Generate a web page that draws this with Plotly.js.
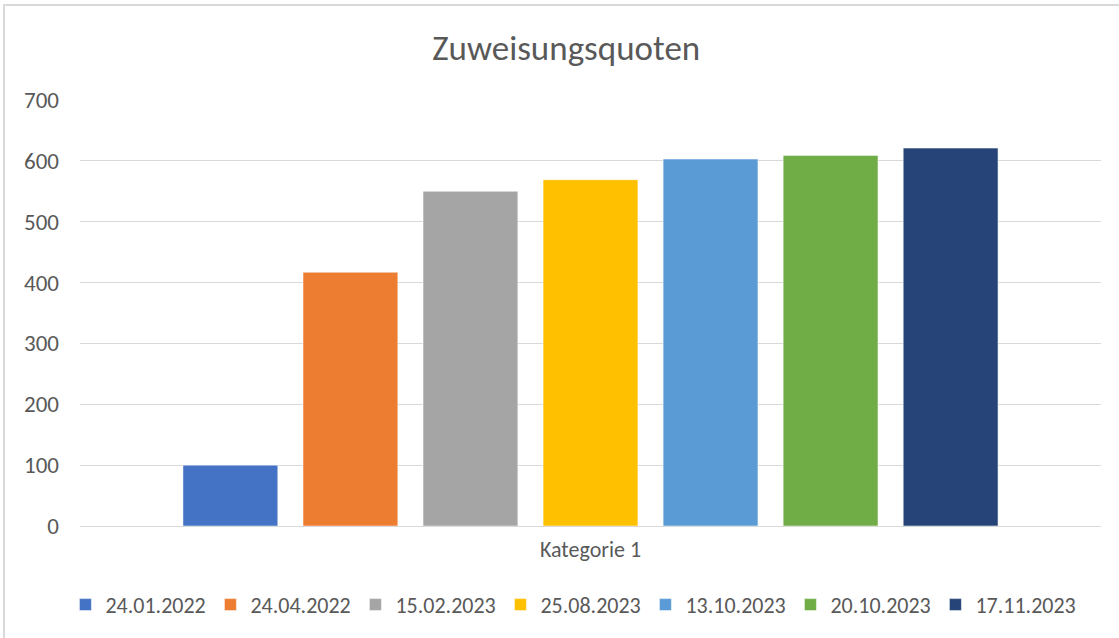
<!DOCTYPE html>
<html>
<head>
<meta charset="utf-8">
<script src="https://cdn.plot.ly/plotly-3.0.1.min.js"></script>
<style>
html, body { margin: 0; padding: 0; background: #fff; overflow: hidden; }
#wrap { position: absolute; left: 3px; top: 4px; width: 1130px; height: 650px; border: 2px solid #d9d9d9; box-sizing: border-box; }
#chart { position: absolute; left: 0; top: 0; width: 1119px; height: 638px; }
</style>
</head>
<body>
<div id="wrap"></div>
<div id="chart"></div>
<script>
const categories = ["Kategorie 1"];
const seriesNames = ["24.01.2022", "24.04.2022", "15.02.2023", "25.08.2023", "13.10.2023", "20.10.2023", "17.11.2023"];
const seriesValues = [100, 417, 550, 569, 603, 609, 621];
const seriesColors = ["#4472C4", "#ED7D31", "#A5A5A5", "#FFC000", "#5B9BD5", "#70AD47", "#264478"];
const yTicks = [0, 100, 200, 300, 400, 500, 600, 700];

const FONT = "Calibri, Carlito, 'Noto Sans', 'Open Sans', sans-serif";
const TXT = "#595959";

const traces = seriesNames.map((name, i) => ({
  type: "bar",
  name: name,
  x: categories,
  y: [seriesValues[i]],
  marker: { color: seriesColors[i], line: { color: "rgba(255,255,255,0.5)", width: 1 } },
  hoverinfo: "name+y"
}));

const layout = {
  width: 1119,
  height: 638,
  paper_bgcolor: "rgba(0,0,0,0)",
  plot_bgcolor: "rgba(0,0,0,0)",
  margin: { l: 80, r: 18, t: 100, b: 112, autoexpand: false },
  font: { family: FONT, color: TXT, size: 22 },
  title: { text: "Zuweisungsquoten", font: { family: FONT, size: 35, color: TXT }, x: 0.506, xanchor: "center", y: 0.925, yanchor: "middle" },
  barmode: "group",
  bargap: 0.177,
  bargroupgap: 0.21,
  showlegend: true,
  legend: { orientation: "h", xref: "container", yref: "container", x: 0.512, xanchor: "center", y: 0.052, yanchor: "middle", font: { family: FONT, size: 22, color: TXT }, itemwidth: 30, entrywidth: 100, tracegroupgap: 0, traceorder: "normal" },
  xaxis: { type: "category", showgrid: false, showline: false, zeroline: false, ticks: "", tickfont: { family: FONT, size: 22, color: TXT }, ticklabelstandoff: 8 },
  yaxis: { range: [0, 700], tickvals: yTicks, ticktext: yTicks.map(String), showgrid: true, gridcolor: "#d9d9d9", gridwidth: 1, zeroline: true, zerolinecolor: "#d9d9d9", zerolinewidth: 1, showline: false, ticks: "", tickfont: { family: FONT, size: 23, color: TXT }, ticklabelstandoff: 20 }
};

Plotly.newPlot("chart", traces, layout, { displayModeBar: false, staticPlot: true });
</script>
</body>
</html>
